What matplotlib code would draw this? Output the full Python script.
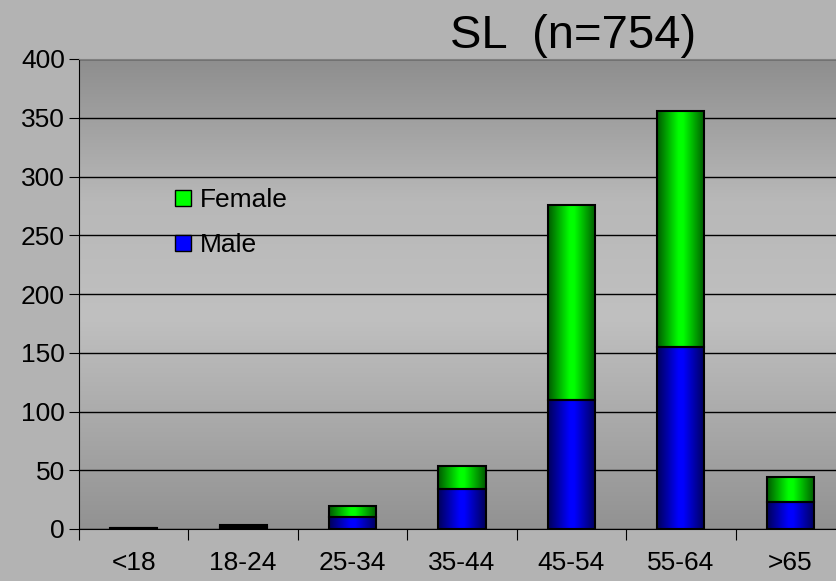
import numpy as np
import matplotlib
matplotlib.use("Agg")
import matplotlib.pyplot as plt
from matplotlib.colors import LinearSegmentedColormap
from matplotlib.patches import Patch

plt.rcParams["font.family"] = ["Liberation Sans", "DejaVu Sans"]

# ── data ────────────────────────────────────────────────────────────────
age_groups = ["<18", "18-24", "25-34", "35-44", "45-54", "55-64", ">65"]
male       = [1, 2, 10, 34, 110, 155, 23]
female     = [0, 1, 10, 20, 166, 201, 21]
yticks     = [0, 50, 100, 150, 200, 250, 300, 350, 400]

fig = plt.figure(figsize=(8.37, 5.81), dpi=100, facecolor="#b3b3b3")
# plot area runs a bit past the right edge of the image
ax = fig.add_axes([79 / 837, 52 / 581, 766 / 837, 470 / 581])
ax.set_facecolor("#b3b3b3")

# plot area gradient: dark top, light middle, darker bottom
bg_cmap = LinearSegmentedColormap.from_list(
    "bg", [(0, "#929292"), (0.45, "#c0c0c0"), (0.7, "#b8b8b8"), (1, "#8e8e8e")])
n = len(age_groups)
ax.imshow(np.linspace(1, 0, 256).reshape(-1, 1), cmap=bg_cmap, aspect="auto",
          extent=[-0.5, n - 0.5, 0, 400], zorder=0)

x = np.arange(n)
w = 0.43

# bar shading: dark edges, bright centre
def shade(base):
    c = np.array(matplotlib.colors.to_rgb(base))
    return LinearSegmentedColormap.from_list(
        base, [(0, c * 0.35), (0.45, c), (0.55, c), (1, c * 0.35)])

grad = np.linspace(0, 1, 128).reshape(1, -1)
for series, bottoms, col in [(male, [0] * n, "#0000ff"),
                             (female, male, "#00ff00")]:
    bars = ax.bar(x, series, w, bottom=bottoms, color=col,
                  edgecolor="black", linewidth=1.5, zorder=3)
    for b in bars:
        if b.get_height() <= 0:
            continue
        bx, by = b.get_x(), b.get_y()
        im = ax.imshow(grad, cmap=shade(col), aspect="auto",
                       extent=[bx, bx + b.get_width(), by, by + b.get_height()],
                       zorder=3.5)
        im.set_clip_path(b)
        b.set_facecolor("none")
        b.set_zorder(4)

ax.set_xlim(-0.5, n - 0.5)
ax.set_ylim(0, 400)
ax.set_yticks(yticks)
ax.set_yticklabels([str(v) for v in yticks], fontsize=19)
ax.yaxis.grid(True, color="black", linewidth=1)
ax.set_axisbelow(True)

# category labels at centres, ticks at boundaries
ax.set_xticks(np.arange(n + 1) - 0.5)
ax.set_xticklabels([])
ax.set_xticks(x, minor=True)
ax.set_xticklabels(age_groups, minor=True, fontsize=19)
ax.tick_params(axis="x", which="minor", length=0, pad=16)
ax.tick_params(axis="x", which="major", length=8, direction="out")
ax.tick_params(axis="y", length=7, direction="out", pad=3)

ax.spines["right"].set_visible(False)
ax.spines["top"].set_color("#808080")
ax.spines["left"].set_color("black")
ax.spines["bottom"].set_color("black")

ax.legend(handles=[Patch(facecolor="#00ff00", edgecolor="black", label="Female"),
                   Patch(facecolor="#0000ff", edgecolor="black", label="Male")],
          loc="upper left", bbox_to_anchor=(96 / 766, 0.725), frameon=False,
          fontsize=19, handlelength=0.6, handleheight=0.6, handletextpad=0.35,
          labelspacing=0.8, borderpad=0, borderaxespad=0)

fig.text(0.685, 0.918, "SL  (n=754)", fontsize=34, ha="center", va="baseline")

fig.savefig("out.png", dpi=100, facecolor=fig.get_facecolor())
